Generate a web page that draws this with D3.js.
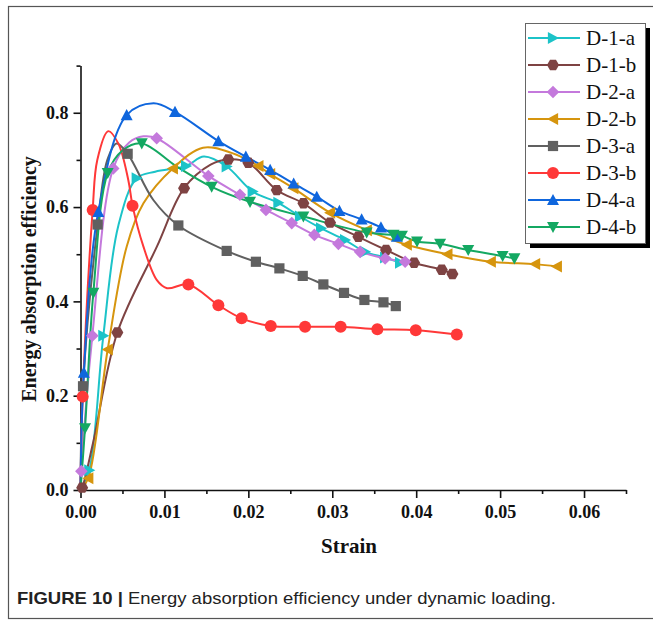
<!DOCTYPE html>
<html><head><meta charset="utf-8">
<script src="https://cdn.jsdelivr.net/npm/d3@7"></script>
<style>body{margin:0;background:#fff}svg{display:block}</style>
</head><body>
<svg id="c" width="653" height="621"></svg>
<script>
// [strain, efficiency, hasMarker]
const D1a = [[0,0,0],[0.00105,0.042,1],[0.00272,0.327,1],[0.0045,0.56,0],[0.0067,0.661,1],[0.0089,0.675,0],[0.01258,0.687,1],[0.0147,0.707,0],[0.01742,0.686,1],[0.02052,0.633,1],[0.02358,0.609,1],[0.02616,0.580,1],[0.02867,0.555,1],[0.03153,0.530,1],[0.03391,0.505,1],[0.0363,0.493,1],[0.03808,0.482,1]];
const D1b = [[0,0,0],[0.0002,0.005,1],[0.0015,0.10,0],[0.00439,0.334,1],[0.0091,0.516,0],[0.01234,0.640,1],[0.0155,0.69,0],[0.01762,0.701,1],[0.0200,0.694,1],[0.02338,0.636,1],[0.02656,0.608,1],[0.02974,0.567,1],[0.03311,0.537,1],[0.03641,0.509,1],[0.03975,0.482,1],[0.04305,0.467,1],[0.04432,0.458,1]];
const D2a = [[0,0,0],[0.0001,0.04,1],[0.00141,0.327,1],[0.0039,0.682,1],[0.0058,0.737,0],[0.0075,0.750,0],[0.00908,0.746,1],[0.01523,0.666,1],[0.0190,0.626,1],[0.0221,0.594,1],[0.02517,0.566,1],[0.02787,0.541,1],[0.03073,0.522,1],[0.03331,0.505,1],[0.0363,0.491,1],[0.03868,0.484,1]];
const D2b = [[0,0,0],[0.00093,0.025,1],[0.00324,0.298,1],[0.0055,0.516,0],[0.0075,0.608,0],[0.0110,0.682,1],[0.0146,0.726,0],[0.0180,0.715,0],[0.0212,0.687,1],[0.02259,0.670,1],[0.02536,0.640,1],[0.02974,0.588,1],[0.03411,0.551,1],[0.03888,0.520,1],[0.04372,0.500,1],[0.04889,0.484,1],[0.05417,0.479,1],[0.05676,0.474,1]];
const D3a = [[0,0,0],[0.0003,0.22,1],[0.00205,0.563,1],[0.0032,0.70,0],[0.0043,0.735,0],[0.00562,0.713,1],[0.00868,0.615,0],[0.01166,0.561,1],[0.01742,0.507,1],[0.0209,0.484,1],[0.0237,0.470,1],[0.02648,0.454,1],[0.02894,0.436,1],[0.0314,0.418,1],[0.03383,0.403,1],[0.0361,0.398,1],[0.03757,0.390,1]];
const D3b = [[0,0,0],[0.00026,0.198,1],[0.00145,0.594,1],[0.0020,0.70,0],[0.0033,0.761,0],[0.0045,0.735,0],[0.0057,0.657,0],[0.0062,0.603,1],[0.0075,0.516,0],[0.0091,0.445,0],[0.0103,0.428,0],[0.01285,0.436,1],[0.01643,0.392,1],[0.0192,0.364,1],[0.02267,0.348,1],[0.02676,0.346,1],[0.0310,0.346,1],[0.03537,0.341,1],[0.03995,0.339,1],[0.04484,0.330,1]];
const D4a = [[0,0,0],[0.0004,0.249,1],[0.00212,0.590,1],[0.0055,0.795,1],[0.0087,0.820,0],[0.01126,0.802,1],[0.01643,0.740,1],[0.0197,0.707,1],[0.0226,0.679,1],[0.0254,0.650,1],[0.02815,0.622,1],[0.03085,0.592,1],[0.0335,0.574,1],[0.0358,0.557,1],[0.0377,0.537,1]];
const D4b = [[0,0,0],[0.00054,0.131,1],[0.00153,0.418,1],[0.00324,0.672,1],[0.0050,0.720,0],[0.0073,0.735,1],[0.01147,0.686,0],[0.01563,0.643,1],[0.0202,0.611,1],[0.02656,0.580,1],[0.0341,0.546,1],[0.0373,0.541,1],[0.0383,0.539,1],[0.0401,0.527,1],[0.04285,0.522,1],[0.0462,0.509,1],[0.0503,0.496,1],[0.0517,0.491,1]];

const seriesNames = ["D-1-a","D-1-b","D-2-a","D-2-b","D-3-a","D-3-b","D-4-a","D-4-b"];
const seriesData = [D1a,D1b,D2a,D2b,D3a,D3b,D4a,D4b];
const seriesColors = ["#1cc3c8","#7e4343","#c479dc","#d6950e","#606060","#ff3838","#0f66dd","#14a862"];
const seriesShapes = ["triRight","hex","diamond","triLeft","square","circle","triUp","triDown"];

const xMajor = [0,0.01,0.02,0.03,0.04,0.05,0.06];
const xMinor = [0.005,0.015,0.025,0.035,0.045,0.055,0.065];
const yMajor = [0,0.2,0.4,0.6,0.8];
const yMinor = [0.1,0.3,0.5,0.7,0.9];

const svg = d3.select("#c");
const L = 80.5, R = 626, T = 65.6, B = 490;
const x = d3.scaleLinear().domain([0,0.065]).range([L,R]);
const y = d3.scaleLinear().domain([0,0.9]).range([B,T]);

// frame
svg.append("rect").attr("x",8.5).attr("y",6.5).attr("width",660).attr("height",612)
  .attr("fill","none").attr("stroke","#555").attr("stroke-width",1.2);

function shapePath(s, r){
  switch(s){
    case "triRight": return `M${-r*0.85},${-r}L${r},0L${-r*0.85},${r}Z`;
    case "triLeft": return `M${r*0.85},${-r}L${-r},0L${r*0.85},${r}Z`;
    case "triUp": return `M${-r},${r*0.85}L0,${-r}L${r},${r*0.85}Z`;
    case "triDown": return `M${-r},${-r*0.85}L0,${r}L${r},${-r*0.85}Z`;
    case "diamond": return `M0,${-r*1.05}L${r*1.05},0L0,${r*1.05}L${-r*1.05},0Z`;
    case "square": { const a=r*0.85; return `M${-a},${-a}H${a}V${a}H${-a}Z`; }
    case "hex": { let p=""; for(let i=0;i<6;i++){const t=Math.PI/3*i; p+=(i?"L":"M")+(r*Math.cos(t)).toFixed(2)+","+(r*Math.sin(t)).toFixed(2);} return p+"Z"; }
    default: return `M${r},0A${r},${r} 0 1,1 ${-r},0A${r},${r} 0 1,1 ${r},0Z`;
  }
}

const serif = "'Liberation Serif','Times New Roman',serif";

// axes
const gx = svg.append("g").attr("transform",`translate(0,${B})`);
gx.call(d3.axisBottom(x).tickValues(xMajor).tickFormat(d3.format(".2f")).tickSize(8).tickSizeOuter(0));
const gxm = svg.append("g").attr("transform",`translate(0,${B})`);
gxm.call(d3.axisBottom(x).tickValues(xMinor).tickFormat("").tickSize(4).tickSizeOuter(0));
gxm.select(".domain").remove();
const gy = svg.append("g").attr("transform",`translate(${L},0)`);
gy.call(d3.axisLeft(y).tickValues(yMajor).tickFormat(d3.format(".1f")).tickSize(7).tickSizeOuter(0));
const gym = svg.append("g").attr("transform",`translate(${L},0)`);
gym.call(d3.axisLeft(y).tickValues(yMinor).tickFormat("").tickSize(4).tickSizeOuter(0));
gym.select(".domain").remove();
svg.selectAll(".domain, .tick line").attr("stroke","#111").attr("stroke-width",1.6);
gx.selectAll(".tick text").attr("font-family",serif).attr("font-weight","bold").attr("font-size",18).attr("fill","#111").attr("dy","0.95em");
gy.selectAll(".tick text").attr("font-family",serif).attr("font-weight","bold").attr("font-size",18).attr("fill","#111").attr("x",-12);

// lines
const line = d3.line().x(d=>x(d[0])).y(d=>y(d[1])).curve(d3.curveCatmullRom.alpha(0.5));
seriesData.forEach((data,i)=>{
  svg.append("path").attr("d",line(data)).attr("fill","none")
    .attr("stroke",seriesColors[i]).attr("stroke-width",2);
});
seriesData.forEach((data,i)=>{
  svg.append("g").selectAll("path").data(data.filter(d=>d[2])).join("path")
    .attr("transform",d=>`translate(${x(d[0])},${y(d[1])})`)
    .attr("d",shapePath(seriesShapes[i],6)).attr("fill",seriesColors[i]);
});

// axis titles
svg.append("text").attr("x",349).attr("y",553).attr("text-anchor","middle")
  .attr("font-family",serif).attr("font-weight","bold").attr("font-size",21).attr("fill","#111").text("Strain");
svg.append("text").attr("transform","translate(36,279) rotate(-90)").attr("text-anchor","middle")
  .attr("font-family",serif).attr("font-weight","bold").attr("font-size",20).attr("fill","#111").text("Energy absorption efficiency");

// legend
const lg = svg.append("g");
lg.append("rect").attr("x",530).attr("y",28).attr("width",120).attr("height",220).attr("fill","#000");
lg.append("rect").attr("x",525.5).attr("y",23.5).attr("width",120).attr("height",220).attr("fill","#fff").attr("stroke","#666").attr("stroke-width",1);
seriesNames.forEach((n,i)=>{
  const yy = 38 + i*27;
  lg.append("line").attr("x1",528).attr("x2",580).attr("y1",yy).attr("y2",yy).attr("stroke",seriesColors[i]).attr("stroke-width",2);
  lg.append("path").attr("transform",`translate(553,${yy})`).attr("d",shapePath(seriesShapes[i],6)).attr("fill",seriesColors[i]);
  lg.append("text").attr("x",586).attr("y",yy+7).attr("font-family",serif).attr("font-size",21).attr("fill","#111").text(n);
});

// caption
const cap = svg.append("text").attr("x",17).attr("y",604).attr("font-family","'Liberation Sans',Arial,sans-serif").attr("font-size",17).attr("fill","#222");
cap.append("tspan").attr("font-weight","bold").text("FIGURE 10 | ");
cap.append("tspan").text("Energy absorption efficiency under dynamic loading.");
cap.attr("textLength",539).attr("lengthAdjust","spacingAndGlyphs");
</script>
</body></html>
